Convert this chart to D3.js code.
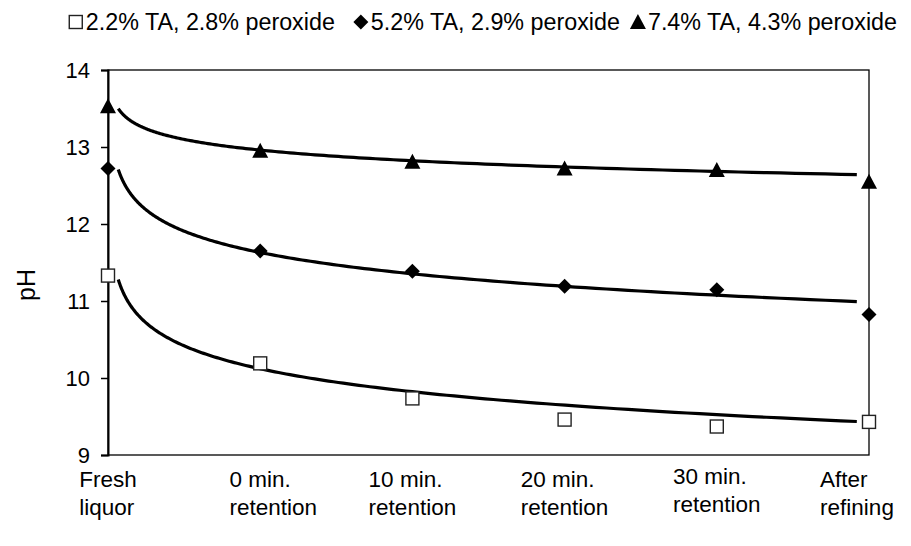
<!DOCTYPE html>
<html>
<head>
<meta charset="utf-8">
<script src="https://cdn.jsdelivr.net/npm/d3@7"></script>
<style>
  html, body { margin: 0; padding: 0; background: #fff; }
  svg { display: block; font-family: "Liberation Sans", Arial, sans-serif; }
</style>
</head>
<body>
<svg id="chart" width="911" height="546"></svg>
<script>
// ---- data ----
const categories = [
  ["Fresh", "liquor"],
  ["0 min.", "retention"],
  ["10 min.", "retention"],
  ["20 min.", "retention"],
  ["30 min.", "retention"],
  ["After", "refining"]
];
const seriesNames = ["2.2% TA, 2.8% peroxide", "5.2% TA, 2.9% peroxide", "7.4% TA, 4.3% peroxide"];
const squareValues   = [11.33, 10.19, 9.735, 9.46, 9.37, 9.43];
const diamondValues  = [12.72, 11.65, 11.385, 11.19, 11.145, 10.825];
const triangleValues = [13.53, 12.95, 12.81, 12.72, 12.70, 12.55];
// logarithmic trend lines  y = b + a * ln(u), u = category index (0 = Fresh liquor)
const trendSlopes     = [-0.43, -0.40, -0.20];
const trendIntercepts = [10.12, 11.63, 12.96];
const trendRange = [0.0676, 4.92];
const yTicks = [9, 10, 11, 12, 13, 14];

// ---- layout ----
const svg = d3.select("#chart");
const m = { left: 108, right: 869, top: 70, bottom: 455 };
const tickFont = 22, labelFont = 22.5, legendFont = 23.3;
const labelShiftX = [0, 13, 0, 0, 0, -12];
const labelShiftY = [0, 0, 0, 0, -3, 0];

const x = d3.scalePoint().domain(d3.range(categories.length)).range([m.left, m.right]).padding(0);
const xu = d3.scaleLinear().domain([0, categories.length - 1]).range([m.left, m.right]);
const y = d3.scaleLinear().domain([9, 14]).range([m.bottom, m.top]);

// frame
svg.append("rect")
  .attr("x", m.left).attr("y", m.top)
  .attr("width", m.right - m.left).attr("height", m.bottom - m.top)
  .attr("fill", "none").attr("stroke", "#000").attr("stroke-width", 1.3);

// y axis
const yAxis = svg.append("g")
  .attr("transform", `translate(${m.left},0)`)
  .call(d3.axisLeft(y).tickValues(yTicks).tickFormat(d3.format("d")).tickSize(7).tickPadding(11));
yAxis.select(".domain").attr("stroke", "#000").attr("stroke-width", 2);
yAxis.selectAll(".tick line").attr("stroke", "#000").attr("stroke-width", 1.5);
yAxis.selectAll(".tick text")
  .attr("font-size", tickFont).attr("font-family", "Liberation Sans, Arial, sans-serif")
  .attr("fill", "#000").attr("dy", "0.36em");

// y title
svg.append("text")
  .attr("transform", `translate(35,285) rotate(-90)`)
  .attr("text-anchor", "middle")
  .attr("font-size", 25)
  .text("pH");

// x category labels (left-aligned blocks centred on the category)
const xl = svg.append("g");
categories.forEach((lines, i) => {
  const t = xl.append("text")
    .attr("y", 487 + labelShiftY[i])
    .attr("font-size", labelFont);
  const spans = lines.map((ln, k) =>
    t.append("tspan").attr("dy", k === 0 ? 0 : 28).text(ln));
  const w = d3.max(spans, s => s.node().getComputedTextLength());
  const left = x(i) - w / 2 + labelShiftX[i];
  spans.forEach(s => s.attr("x", left));
});

// trend lines
const seriesValues = [squareValues, diamondValues, triangleValues];
const line = d3.line().x(d => xu(d[0])).y(d => y(d[1]));
seriesValues.forEach((vals, s) => {
  const pts = [];
  const n = 200;
  for (let k = 0; k <= n; k++) {
    const u = trendRange[0] * Math.pow(trendRange[1] / trendRange[0], k / n);
    pts.push([u, trendIntercepts[s] + trendSlopes[s] * Math.log(u)]);
  }
  svg.append("path").datum(pts)
    .attr("d", line)
    .attr("fill", "none").attr("stroke", "#000").attr("stroke-width", 3.2)
    .attr("stroke-linejoin", "round");
});

// markers
function drawMarker(g, type, cx, cy) {
  if (type === 0) {
    g.append("rect").attr("x", cx - 6.5).attr("y", cy - 6.5).attr("width", 13).attr("height", 13)
      .attr("fill", "#fff").attr("stroke", "#222").attr("stroke-width", 1.4);
  } else if (type === 1) {
    g.append("path").attr("d", `M${cx},${cy - 7.5}L${cx + 7.5},${cy}L${cx},${cy + 7.5}L${cx - 7.5},${cy}Z`)
      .attr("fill", "#000");
  } else {
    g.append("path").attr("d", `M${cx},${cy - 8}L${cx + 8},${cy + 7}L${cx - 8},${cy + 7}Z`)
      .attr("fill", "#000");
  }
}
const mk = svg.append("g");
seriesValues.forEach((vals, s) => {
  vals.forEach((v, i) => drawMarker(mk, s, x(i), y(v)));
});

// legend (right-aligned to 897)
const lg = svg.append("g");
const lyc = 22;
let lx = 0;
seriesNames.forEach((name, s) => {
  const g = lg.append("g");
  drawMarker(g, s, lx + 6, lyc);
  const t = g.append("text").attr("x", lx + 16).attr("y", lyc).attr("dy", "0.36em")
    .attr("font-size", legendFont).text(name);
  const w = t.node().getComputedTextLength();
  lx = lx + 16 + w + (s === 0 ? 20 : 12);
});
const bb = lg.node().getBBox();
lg.attr("transform", `translate(${897 - (bb.x + bb.width)},0)`);
</script>
</body>
</html>
